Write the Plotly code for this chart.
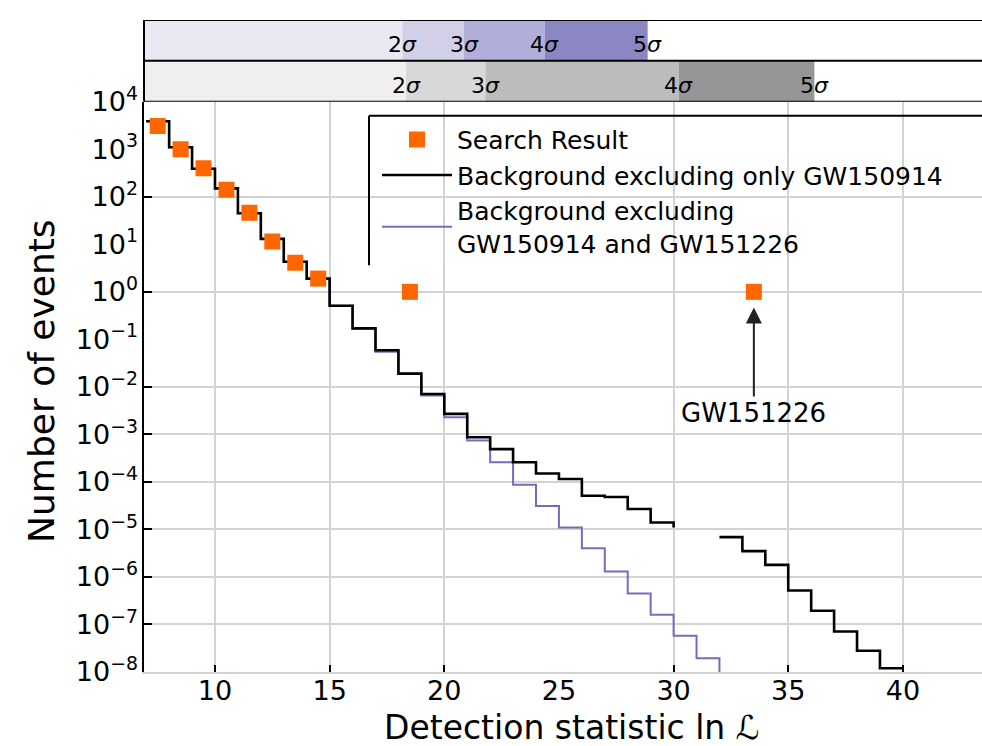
import plotly.graph_objects as go

# ---- data -------------------------------------------------------------
# histogram bin edges for the background curves (detection statistic ln L)
bin_left = list(range(7, 40))          # bins [7,8] ... [39,40]

# background excluding only GW150914 (None = empty bin)
bg_only_150914 = [3.9e3, 1.1e3, 3.9e2, 1.5e2, 45, 13, 4.3, 1.9,
                  0.51, 0.17, 0.059, 0.019, 7.1e-3, 2.7e-3, 8.7e-4, 4.9e-4,
                  2.6e-4, 1.5e-4, 1.15e-4, 5.1e-5, 4.8e-5, 2.7e-5, 1.4e-5, 1.1e-5,
                  None, 6.9e-6, 3.5e-6, 1.8e-6, 5.2e-7, 1.95e-7, 7.1e-8, 2.8e-8, 1.2e-8]

# background excluding GW150914 and GW151226 (bins [7,8] ... [31,32])
bg_both = [3.9e3, 1.1e3, 3.9e2, 1.5e2, 45, 13, 4.3, 1.9,
           0.51, 0.17, 0.055, 0.019, 6.6e-3, 2.3e-3, 7.4e-4, 2.6e-4,
           8.7e-5, 3.1e-5, 1.1e-5, 4.0e-6, 1.3e-6, 4.5e-7, 1.6e-7, 5.8e-8, 1.95e-8]
bg_both_tail = 1e-9   # falls below the plotted range after the last bin

# search result (candidate events)
search_x = [7.5, 8.5, 9.5, 10.5, 11.5, 12.5, 13.5, 14.5, 18.5, 33.5]
search_y = [3.1e3, 1.0e3, 4.0e2, 1.4e2, 46, 11.5, 4.1, 1.9, 1.0, 1.0]

# significance bands (ln L thresholds for 2,3,4,5 sigma)
sigma_labels = ["2", "3", "4", "5"]
sigma_both = [18.17, 20.86, 24.37, 28.87]      # upper (purple) band
sigma_only = [18.33, 21.79, 30.22, 36.14]      # lower (grey) band
colors_both = ["#e9e8f3", "#d1d0e8", "#b1aed9", "#8b87c3"]
colors_only = ["#efefef", "#d8d8d8", "#bcbcbc", "#969696"]

x_ticks = [10, 15, 20, 25, 30, 35, 40]
x_grid = [10, 15, 20, 30, 35, 40]
y_label_exp = list(range(4, -9, -1))
y_grid_exp = [4, 2, 0, -2, -3, -4, -5, -6, -7, -8]

x_range = [6.904, 43.45]
y_range = [-8, 4]

FONT = "DejaVu Sans"
BLACK = "#000000"
PURPLE = "#7c69bb"
ORANGE = "#ff6600"
GRID = "#d3d3d3"

# figure geometry (pixels)
W, H = 982, 746
ML, MR, MT, MB = 144, 0, 18, 74
PW, PH = W - ML - MR, H - MT - MB


def paper_x(px):
    return (px - ML) / PW


def paper_y(py):
    return (H - MB - py) / PH


def sup(e):
    s = str(e).replace("-", "\u2212")
    return f"10<sup>{s}</sup>"


def step_xy(lefts, values, tail=None):
    xs = list(lefts) + [lefts[-1] + 1]
    ys = list(values) + [values[-1] if tail is None else tail]
    return xs, ys


fig = go.Figure()

px_, py_ = step_xy(bin_left[:len(bg_both)], bg_both, bg_both_tail)
fig.add_trace(go.Scatter(x=px_, y=py_, mode="lines", line_shape="hv",
                         line=dict(color=PURPLE, width=2),
                         name="Background excluding<br>GW150914 and GW151226",
                         legendrank=3, connectgaps=False))

bx, by = step_xy(bin_left, bg_only_150914)
fig.add_trace(go.Scatter(x=bx, y=by, mode="lines", line_shape="hv",
                         line=dict(color=BLACK, width=2.6),
                         name="Background excluding only GW150914",
                         legendrank=2, connectgaps=False))

fig.add_trace(go.Scatter(x=search_x, y=search_y, mode="markers",
                         marker=dict(symbol="square", size=16, color=ORANGE,
                                     line=dict(width=0)),
                         name="Search Result", legendrank=1,
                         xaxis="x3", yaxis="y3"))

main_top = paper_y(100)

common_x = dict(range=x_range, zeroline=False)
fig.update_layout(
    width=W, height=H,
    margin=dict(l=ML, r=MR, t=MT, b=MB),
    paper_bgcolor="white", plot_bgcolor="white",
    font=dict(family=FONT, color="black"),
    showlegend=True,
    xaxis=dict(domain=[0, 1], anchor="y", tickvals=x_grid, showticklabels=False,
               ticks="inside", ticklen=7, tickwidth=2, tickcolor=BLACK,
               showgrid=True, gridcolor=GRID, gridwidth=2,
               showline=True, linecolor=GRID, linewidth=2, **common_x),
    yaxis=dict(domain=[0, main_top], anchor="x", type="log", range=y_range,
               tickvals=[10.0 ** e for e in y_grid_exp], showticklabels=False,
               ticks="inside", ticklen=8, tickwidth=2, tickcolor=BLACK,
               showgrid=True, gridcolor=GRID, gridwidth=2,
               showline=True, linecolor=BLACK, linewidth=2, zeroline=False),
    xaxis3=dict(overlaying="x", anchor="y", side="bottom", **common_x,
                tickvals=x_ticks, ticktext=[str(v) for v in x_ticks],
                showgrid=False, ticks="", tickfont=dict(size=27)),
    yaxis3=dict(overlaying="y", anchor="x", side="left", type="log", range=y_range,
                tickvals=[10.0 ** e for e in y_label_exp],
                ticktext=[sup(e) for e in y_label_exp], ticklabelstandoff=5,
                showgrid=False, ticks="", zeroline=False, tickfont=dict(size=27)),
    xaxis2=dict(domain=[0, 1], anchor="y2", matches="x", visible=False, **common_x),
    yaxis2=dict(domain=[main_top, 1], anchor="x2", range=[0, 2], visible=False),
    legend=dict(x=paper_x(377), y=paper_y(115), xanchor="left", yanchor="top",
                bgcolor="rgba(0,0,0,0)", borderwidth=0, font=dict(size=25),
                traceorder="normal", itemwidth=70, tracegroupgap=0),
)

shapes = []
# significance bands
for row, (bounds, cols) in enumerate([(sigma_only, colors_only), (sigma_both, colors_both)]):
    edges = [x_range[0]] + bounds
    for i, c in enumerate(cols):
        shapes.append(dict(type="rect", xref="x2", yref="y2", x0=edges[i], x1=edges[i + 1],
                           y0=row, y1=row + 1, fillcolor=c, line=dict(width=0), layer="below"))
# band frame lines
for yv in [0, 1, 2]:
    shapes.append(dict(type="line", xref="x2 domain", yref="y2", x0=0, x1=1, y0=yv, y1=yv,
                       line=dict(color=BLACK, width=2)))
shapes.append(dict(type="line", xref="x2 domain", yref="y2", x0=0, x1=0, y0=0, y1=2,
                   line=dict(color=BLACK, width=2)))

# legend panel (white box with top/left frame)
lx0 = paper_x(369)
ly0 = paper_y(264)
ly1 = paper_y(114)
shapes.append(dict(type="rect", xref="paper", yref="paper", x0=lx0, x1=1.01, y0=ly0, y1=ly1,
                   fillcolor="white", line=dict(width=0), layer="between"))
shapes.append(dict(type="line", xref="paper", yref="paper", x0=lx0, x1=1.01, y0=ly1, y1=ly1,
                   line=dict(color=BLACK, width=2)))
shapes.append(dict(type="line", xref="paper", yref="paper", x0=lx0, x1=lx0, y0=ly0, y1=ly1,
                   line=dict(color=BLACK, width=2)))
fig.update_layout(shapes=shapes)

annotations = []
for row, bounds in enumerate([sigma_only, sigma_both]):
    for lab, xv in zip(sigma_labels, bounds):
        annotations.append(dict(xref="x2", yref="y2", x=xv, y=row + 0.4,
                                text=f"{lab}<i>\u03c3</i>", showarrow=False,
                                font=dict(size=22), xanchor="center", yanchor="middle"))

# axis titles
annotations.append(dict(xref="paper", yref="paper", x=paper_x(572), y=paper_y(728),
                        text="Detection statistic ln <i>\u2112</i>", showarrow=False,
                        font=dict(size=33), xanchor="center", yanchor="middle"))
annotations.append(dict(xref="paper", yref="paper", x=paper_x(42), y=paper_y(380),
                        text="Number of events", showarrow=False, textangle=-90,
                        font=dict(size=36), xanchor="center", yanchor="middle"))

# GW151226 pointer
annotations.append(dict(xref="x", yref="y", x=search_x[-1], y=-0.33,
                        axref="x", ayref="y", ax=search_x[-1], ay=-2.55,
                        text="GW151226", showarrow=True, arrowhead=2, arrowsize=1.6,
                        arrowwidth=2, arrowcolor="#222222", font=dict(size=26),
                        standoff=0, startstandoff=0))
fig.update_layout(annotations=annotations)

fig.write_html("out.html")
